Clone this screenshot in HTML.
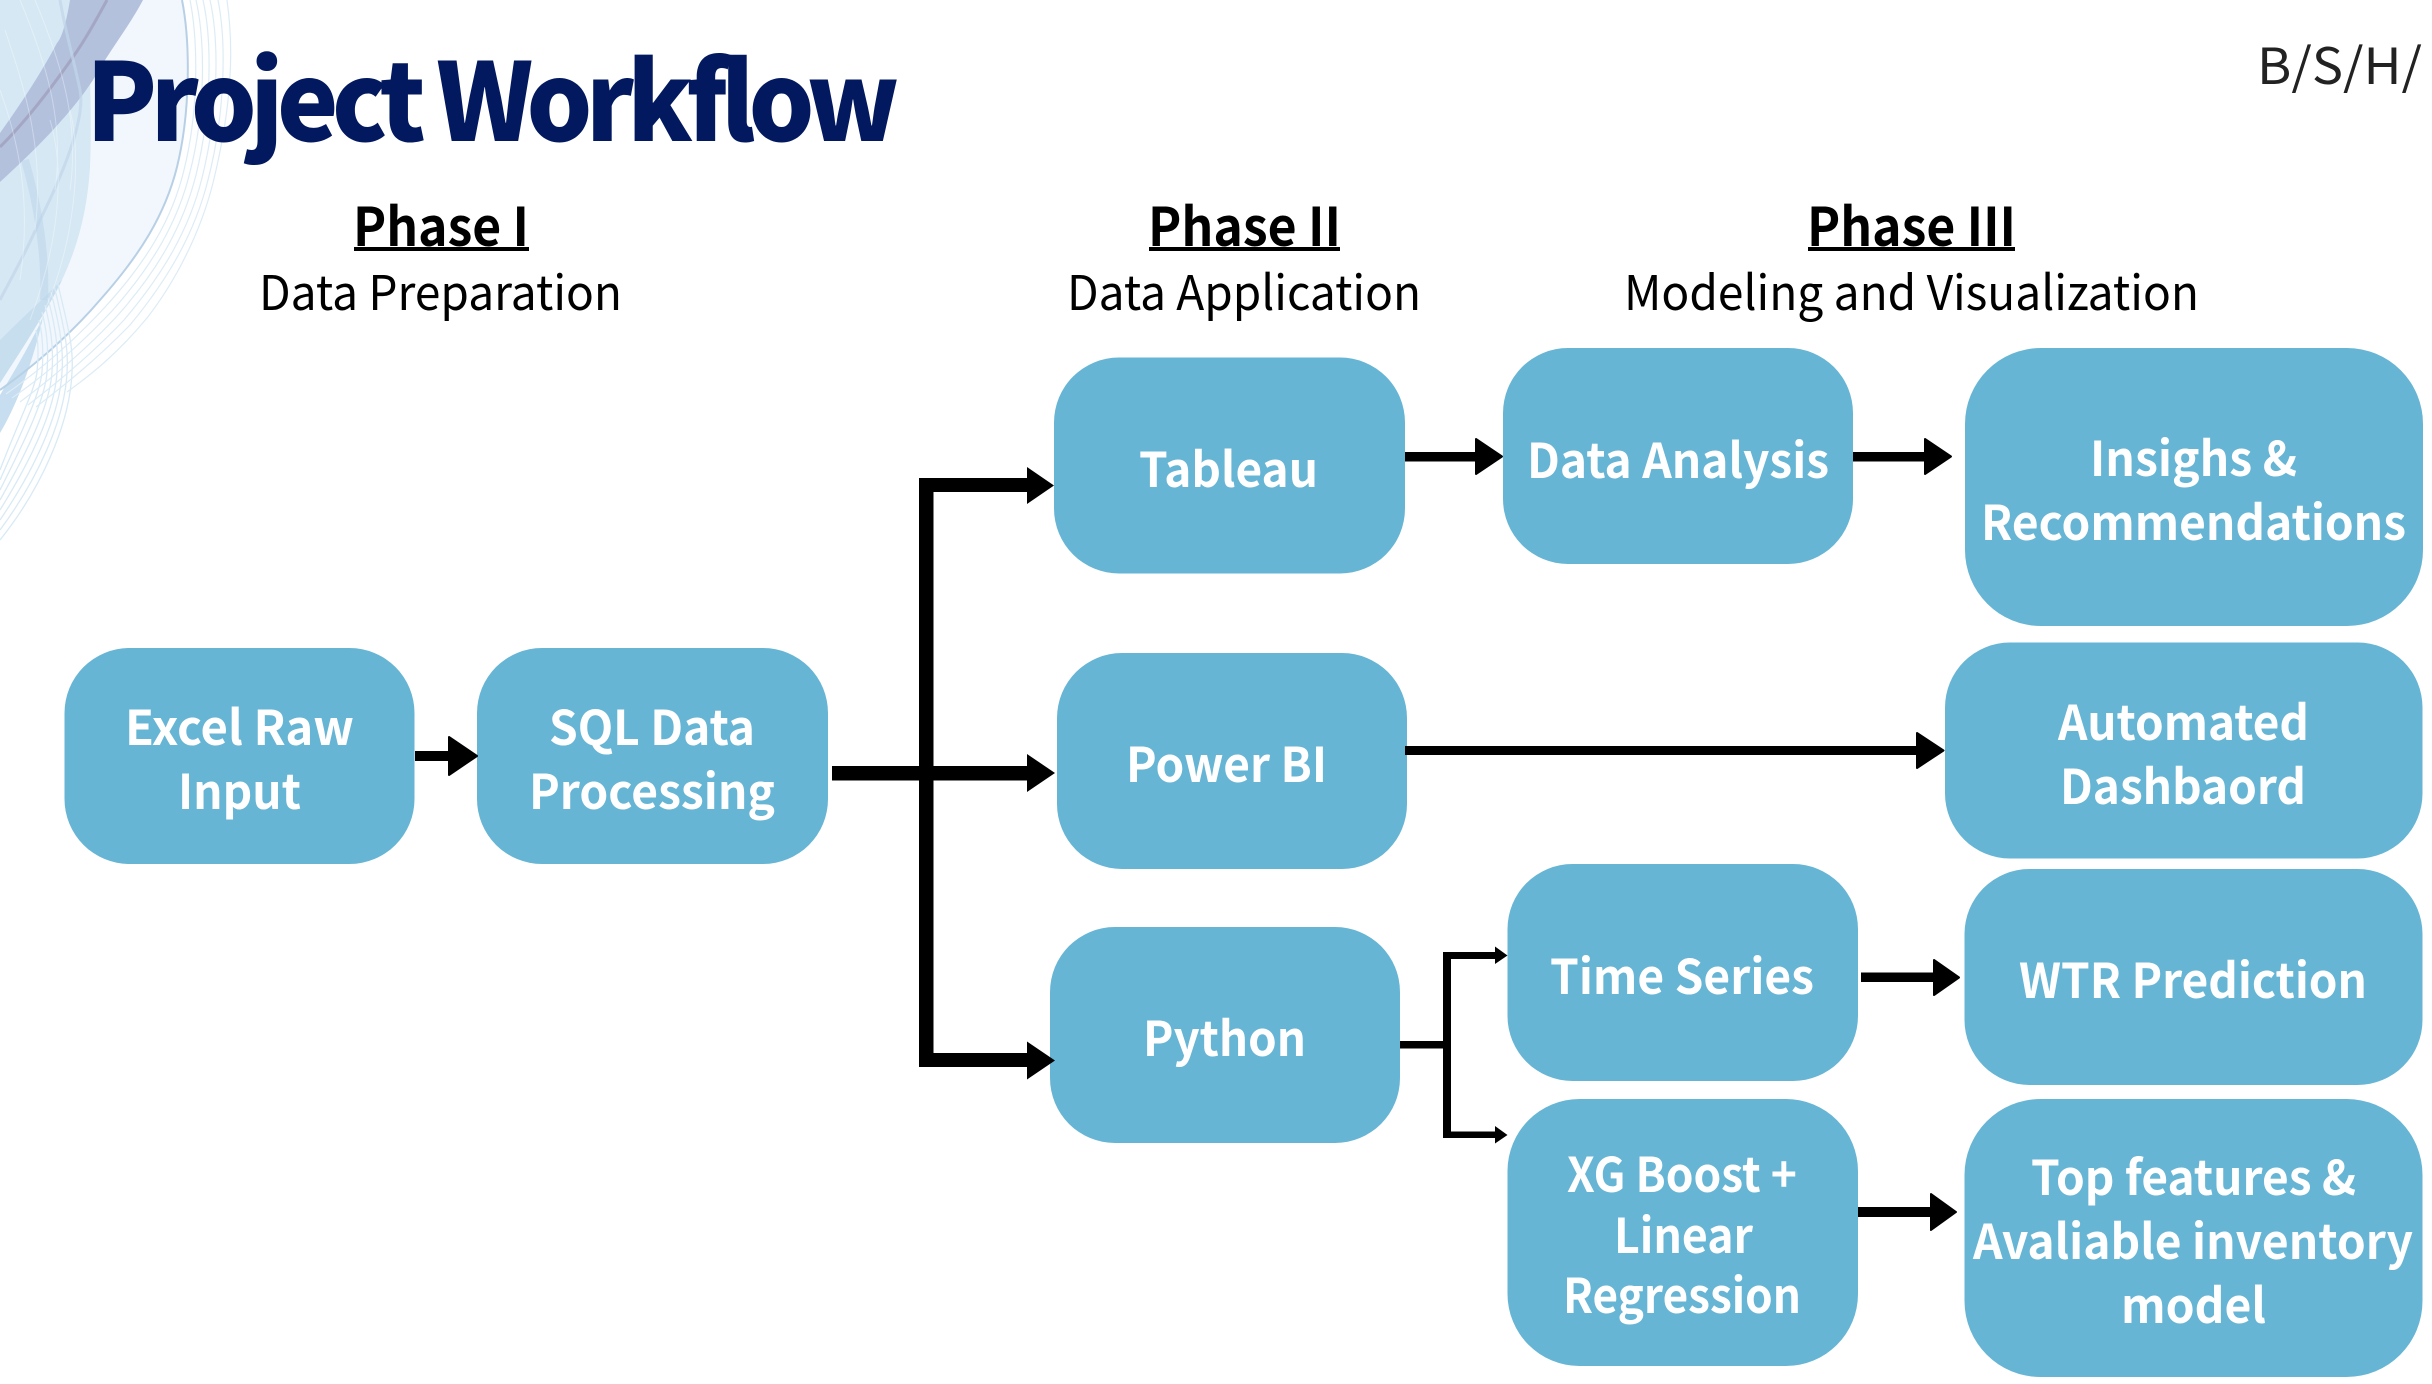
<!DOCTYPE html>
<html lang="en">
<head>
<meta charset="utf-8">
<title>Project Workflow</title>
<style>
html,body{margin:0;padding:0;background:#fff;width:2432px;height:1384px;overflow:hidden}
svg{display:block}
text{font-family:"Noto Sans CJK JP","Liberation Sans",sans-serif}
.n{fill:#fff;font-size:48px;font-weight:700}
.p{fill:#000;font-size:53px;font-weight:700}
.s{fill:#000;font-size:48px;font-weight:400}
.b{fill:#67b5d4}
</style>
</head>
<body>
<svg width="2432" height="1384" viewBox="0 0 2432 1384" xmlns="http://www.w3.org/2000/svg">
<rect width="2432" height="1384" fill="#fff"/>

<!-- decorative wave -->
<g fill="none">
  <path d="M0 0H182C190 40 191 110 177 167C165 215 140 255 100 300C70 335 35 365 0 390Z" fill="#f1f7fc" stroke="none"/>
  <path d="M0 0H86C90 60 92 120 90 167C87 215 76 250 62 280C50 305 25 345 0 383Z" fill="#d6e8f4" stroke="none"/>
  <path d="M43 317C36 350 20 400 0 433V395C15 370 30 345 43 317Z" fill="#c6deef" stroke="none"/>
  <path d="M62 280C50 305 25 345 0 383V340C20 320 42 300 62 280Z" fill="#c3dbee" stroke="none" opacity=".8"/>
  <path d="M70 0C65 30 60 40 57 43C40 75 20 105 0 133V182C35 150 70 115 93 80C110 50 130 25 143 0Z" fill="#b3c1dd" stroke="none"/>
  <path d="M107 0C95 22 85 40 73 57C50 90 25 122 0 147" stroke="#a3a7c3" stroke-width="3"/>
  <path d="M60 0C66 35 74 60 80 90C86 120 60 180 40 220C25 255 10 280 0 300" stroke="#c0d6ea" stroke-width="3" opacity=".7"/>
  <path d="M25 160C38 205 46 255 44 300" stroke="#b9d4ea" stroke-width="8" opacity=".5"/>
  <path d="M182 0C190 40 191 110 177 167C165 215 140 255 100 300C70 335 35 365 0 390" stroke="#b8d0e6" stroke-width="2"/>
  <g stroke="#dcecf6" stroke-width="1.2">
    <path d="M190 0C198 40 199 110 184 170C172 220 146 262 106 306C75 340 40 370 6 394"/>
    <path d="M196 0C205 40 206 110 190 172C178 222 152 266 112 311C80 345 45 375 12 398"/>
    <path d="M203 0C212 40 212 110 196 175C183 226 158 270 118 315C86 350 52 378 20 402"/>
    <path d="M210 0C219 40 219 110 202 178C189 230 163 274 124 320C92 354 58 382 28 405"/>
    <path d="M218 0C226 40 226 110 208 180C195 232 169 278 130 325C98 358 66 384 36 407"/>
    <path d="M227 0C234 50 232 105 213 183C200 234 175 282 147 318C118 353 92 374 67 392"/>
  </g>
  <g stroke="#d8eaf5" stroke-width="1.3">
    <path d="M57 280C66 320 74 345 72 372C70 425 40 490 0 540"/>
    <path d="M54 285C62 320 69 345 67 372C65 420 37 480 0 530"/>
    <path d="M51 292C58 320 64 345 62 372C60 415 34 470 0 520"/>
    <path d="M48 298C54 322 59 345 57 372C55 410 31 460 0 510"/>
    <path d="M45 305C50 325 54 345 52 372C50 405 28 450 0 500"/>
    <path d="M42 312C46 328 49 345 47 372C45 400 25 440 0 490"/>
    <path d="M39 320C42 332 44 348 42 372C40 395 22 430 0 480"/>
    <path d="M36 330C38 340 39 352 37 372C35 390 19 420 0 470"/>
  </g>
  <g stroke="#ffffff" stroke-width="1" opacity=".35">
    <path d="M20 0C45 60 65 120 55 190"/>
    <path d="M35 0C60 60 80 120 70 190"/>
    <path d="M5 30C25 90 45 150 35 230"/>
    <path d="M0 90C18 140 32 200 20 280"/>
    <path d="M50 120C65 170 60 240 30 320"/>
    <path d="M70 110C82 160 75 240 45 310"/>
  </g>
</g>

<!-- headings -->
<text x="86" y="141" fill="#03195f" textLength="807" lengthAdjust="spacingAndGlyphs" style="font-size:108px;font-weight:900;letter-spacing:-7px">Project Workflow</text>
<text x="2257" y="84" font-size="50" fill="#222" textLength="165" lengthAdjust="spacingAndGlyphs" style="font-weight:400">B/S/H/</text>

<text class="p" x="353" y="246" textLength="176" lengthAdjust="spacingAndGlyphs">Phase I</text>
<rect x="354" y="247" width="175" height="4"/>
<text class="s" x="259" y="310" textLength="363" lengthAdjust="spacingAndGlyphs">Data Preparation</text>

<text class="p" x="1148" y="246" textLength="193" lengthAdjust="spacingAndGlyphs">Phase II</text>
<rect x="1149" y="247" width="191" height="4"/>
<text class="s" x="1067" y="310" textLength="354" lengthAdjust="spacingAndGlyphs">Data Application</text>

<text class="p" x="1807" y="246" textLength="209" lengthAdjust="spacingAndGlyphs">Phase III</text>
<rect x="1808" y="247" width="207" height="4"/>
<text class="s" x="1624" y="310" textLength="575" lengthAdjust="spacingAndGlyphs">Modeling and Visualization</text>

<!-- nodes -->
<rect class="b" x="64.5" y="648" width="350" height="216" rx="65"/>
<rect class="b" x="477" y="648" width="351" height="216" rx="65"/>
<rect class="b" x="1054" y="357.5" width="351" height="216" rx="65"/>
<rect class="b" x="1503" y="348" width="350" height="216" rx="65"/>
<rect class="b" x="1965" y="348" width="458" height="278" rx="76"/>
<rect class="b" x="1057" y="653" width="350" height="216" rx="65"/>
<rect class="b" x="1945" y="642.5" width="477.5" height="216" rx="65"/>
<rect class="b" x="1050" y="927" width="350" height="216" rx="65"/>
<rect class="b" x="1507.5" y="864" width="350.5" height="217" rx="65"/>
<rect class="b" x="1964.500" y="869" width="458" height="216" rx="65"/>
<rect class="b" x="1507.5" y="1099" width="350.5" height="267" rx="72"/>
<rect class="b" x="1964.500" y="1099" width="458" height="278" rx="76"/>

<!-- node labels -->
<text class="n" x="125" y="745" textLength="229" lengthAdjust="spacingAndGlyphs">Excel Raw</text>
<text class="n" x="178" y="809" textLength="123" lengthAdjust="spacingAndGlyphs">Input</text>
<text class="n" x="549" y="745" textLength="206" lengthAdjust="spacingAndGlyphs">SQL Data</text>
<text class="n" x="529" y="809" textLength="246" lengthAdjust="spacingAndGlyphs">Processing</text>
<text class="n" x="1139" y="487" textLength="179" lengthAdjust="spacingAndGlyphs">Tableau</text>
<text class="n" x="1527" y="478" textLength="302" lengthAdjust="spacingAndGlyphs">Data Analysis</text>
<text class="n" x="2090" y="476" textLength="207" lengthAdjust="spacingAndGlyphs">Insighs &amp;</text>
<text class="n" x="1981" y="540" textLength="425" lengthAdjust="spacingAndGlyphs">Recommendations</text>
<text class="n" x="1126" y="782" textLength="201" lengthAdjust="spacingAndGlyphs">Power BI</text>
<text class="n" x="2058" y="740" textLength="251" lengthAdjust="spacingAndGlyphs">Automated</text>
<text class="n" x="2060" y="804" textLength="246" lengthAdjust="spacingAndGlyphs">Dashbaord</text>
<text class="n" x="1143" y="1056" textLength="163" lengthAdjust="spacingAndGlyphs">Python</text>
<text class="n" x="1550" y="994" textLength="264" lengthAdjust="spacingAndGlyphs">Time Series</text>
<text class="n" x="2019" y="998" textLength="348" lengthAdjust="spacingAndGlyphs">WTR Prediction</text>
<text class="n" x="1567" y="1192" textLength="230" lengthAdjust="spacingAndGlyphs">XG Boost +</text>
<text class="n" x="1614" y="1253" textLength="139" lengthAdjust="spacingAndGlyphs">Linear</text>
<text class="n" x="1563" y="1313" textLength="238" lengthAdjust="spacingAndGlyphs">Regression</text>
<text class="n" x="2031" y="1195" textLength="325" lengthAdjust="spacingAndGlyphs">Top features &amp;</text>
<text class="n" x="1973" y="1259" textLength="440" lengthAdjust="spacingAndGlyphs">Avaliable inventory</text>
<text class="n" x="2121" y="1323" textLength="145" lengthAdjust="spacingAndGlyphs">model</text>

<!-- connectors -->
<g fill="#000">
  <!-- Excel to SQL -->
  <rect x="415" y="751" width="35" height="10"/>
  <path d="M449 737L477 756L449 775Z" stroke="#000" stroke-width="2" stroke-linejoin="round"/>
  <!-- SQL trunk -->
  <rect x="832" y="766" width="196" height="14.5"/>
  <rect x="919" y="478" width="14.5" height="589"/>
  <rect x="919" y="478" width="109" height="14"/>
  <rect x="919" y="1053" width="109" height="14"/>
  <path d="M1027 467L1054 485.5L1027 504Z"/>
  <path d="M1027 754L1055 773L1027 792Z"/>
  <path d="M1027 1041.5L1055 1060.5L1027 1079.5Z"/>
  <!-- Tableau to Data Analysis -->
  <rect x="1405" y="452" width="71" height="9.5"/>
  <path d="M1476 439L1502 456.5L1476 474Z" stroke="#000" stroke-width="2" stroke-linejoin="round"/>
  <!-- Data Analysis to Insights -->
  <rect x="1853" y="452" width="72" height="9.5"/>
  <path d="M1925 439L1951 456.5L1925 474Z" stroke="#000" stroke-width="2" stroke-linejoin="round"/>
  <!-- Power BI to Automated -->
  <rect x="1405" y="746" width="512" height="9"/>
  <path d="M1917 733L1943.500 750.500L1917 768Z" stroke="#000" stroke-width="2" stroke-linejoin="round"/>
  <!-- Python split -->
  <rect x="1400" y="1041" width="45" height="7.5"/>
  <rect x="1443" y="952" width="8" height="186"/>
  <rect x="1443" y="952" width="53" height="7"/>
  <rect x="1443" y="1131.500" width="53" height="6.500"/>
  <path d="M1495 946.500L1507.500 955.500L1495 964Z"/>
  <path d="M1495 1126L1507.500 1135L1495 1143.500Z"/>
  <!-- Time Series to WTR -->
  <rect x="1861" y="972.500" width="74" height="9.500"/>
  <path d="M1934 960L1959 977.500L1934 995Z" stroke="#000" stroke-width="2" stroke-linejoin="round"/>
  <!-- XG to Top -->
  <rect x="1858" y="1207" width="74" height="10"/>
  <path d="M1931 1194L1956 1212L1931 1230Z" stroke="#000" stroke-width="2" stroke-linejoin="round"/>
</g>
</svg>
</body>
</html>
